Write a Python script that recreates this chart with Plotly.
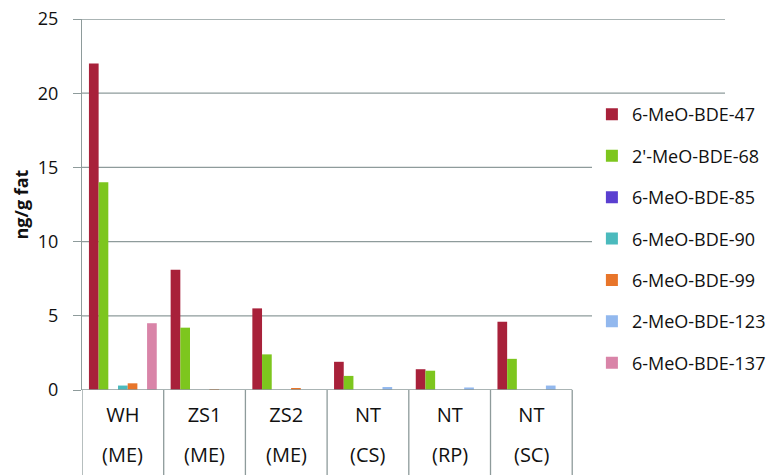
import plotly.graph_objects as go

sites = ["WH", "ZS1", "ZS2", "NT", "NT", "NT"]
regions = ["(ME)", "(ME)", "(ME)", "(CS)", "(RP)", "(SC)"]
categories = [f"{s} {r}" for s, r in zip(sites, regions)]

series_names = ["6-MeO-BDE-47", "2'-MeO-BDE-68", "6-MeO-BDE-85", "6-MeO-BDE-90",
                "6-MeO-BDE-99", "2-MeO-BDE-123", "6-MeO-BDE-137"]
bde47 = [22.0, 8.1, 5.5, 1.9, 1.4, 4.6]
bde68 = [14.0, 4.2, 2.4, 0.95, 1.3, 2.1]
bde85 = [0, 0, 0, 0, 0, 0]
bde90 = [0.3, 0, 0, 0, 0, 0]
bde99 = [0.45, 0.05, 0.08, 0, 0, 0]
bde123 = [0, 0, 0, 0.2, 0.17, 0.3]
bde137 = [4.5, 0, 0, 0, 0, 0]
series_values = [bde47, bde68, bde85, bde90, bde99, bde123, bde137]
colors = ["#A8213A", "#7DC61E", "#5A3FD0", "#4BBABD", "#E8752A", "#92B8EE", "#D984A8"]

yticks = [0, 5, 10, 15, 20, 25]
y_title = "ng/g fat"
grid_color = "#8E9B9B"
FONT = "Open Sans"

fig = go.Figure()
for name, vals, col in zip(series_names, series_values, colors):
    fig.add_trace(go.Bar(x=categories, y=vals, name=name, marker_color=col,
                         marker_line_width=0, legendgroup=name))

shapes = []
for t in yticks[1:]:
    shapes.append(dict(type="line", xref="paper", x0=0, x1=1, yref="y", y0=t, y1=t,
                       line=dict(color=grid_color, width=1.3), layer="below"))
n = len(categories)
shapes.append(dict(type="line", xref="x", x0=-0.5, x1=n - 0.5, yref="y", y0=0, y1=0,
                   line=dict(color=grid_color, width=1.3), layer="above"))
for i in range(n + 1):
    shapes.append(dict(type="line", xref="x", x0=i - 0.5, x1=i - 0.5, yref="paper",
                       y0=0, y1=-0.3, line=dict(color=grid_color, width=1.3)))

annotations = []
for c, r in zip(categories, regions):
    annotations.append(dict(x=c, xref="x", y=-0.1736, yref="paper", text=r,
                            showarrow=False, yanchor="middle",
                            font=dict(family=FONT, size=20, color="#111")))
annotations.append(dict(x=-0.0964, xref="paper", y=0.5, yref="paper",
                        text=f"<b>{y_title}</b>", textangle=-90, showarrow=False,
                        xanchor="center", yanchor="middle",
                        font=dict(family=FONT, size=18, color="#111")))

fig.update_layout(
    width=772, height=467,
    margin=dict(l=74, r=55, t=11, b=84.5, autoexpand=False),
    paper_bgcolor="white", plot_bgcolor="white",
    barmode="group", bargap=0.17, bargroupgap=0,
    font=dict(family=FONT, size=19, color="#111"),
    shapes=shapes, annotations=annotations,
    legend=dict(x=0.793, xanchor="left", y=0.792, yanchor="top",
                bgcolor="white", font=dict(family=FONT, size=18, color="#111"),
                tracegroupgap=15, itemclick=False),
    xaxis=dict(type="category", categoryarray=categories, range=[-0.5, 7.37],
               tickvals=categories, ticktext=sites, ticks="", showline=False,
               showgrid=False, ticklabelstandoff=11,
               tickfont=dict(family=FONT, size=20, color="#111")),
    yaxis=dict(range=[0, 25], tickvals=yticks, showgrid=False, zeroline=False,
               showline=True, linecolor=grid_color, linewidth=1.3,
               ticks="outside", ticklen=8, tickcolor=grid_color, tickwidth=1.3,
               ticklabelstandoff=11, ticklabeloverflow="allow",
               tickfont=dict(family=FONT, size=18, color="#111")),
)

fig.write_html("out.html")
